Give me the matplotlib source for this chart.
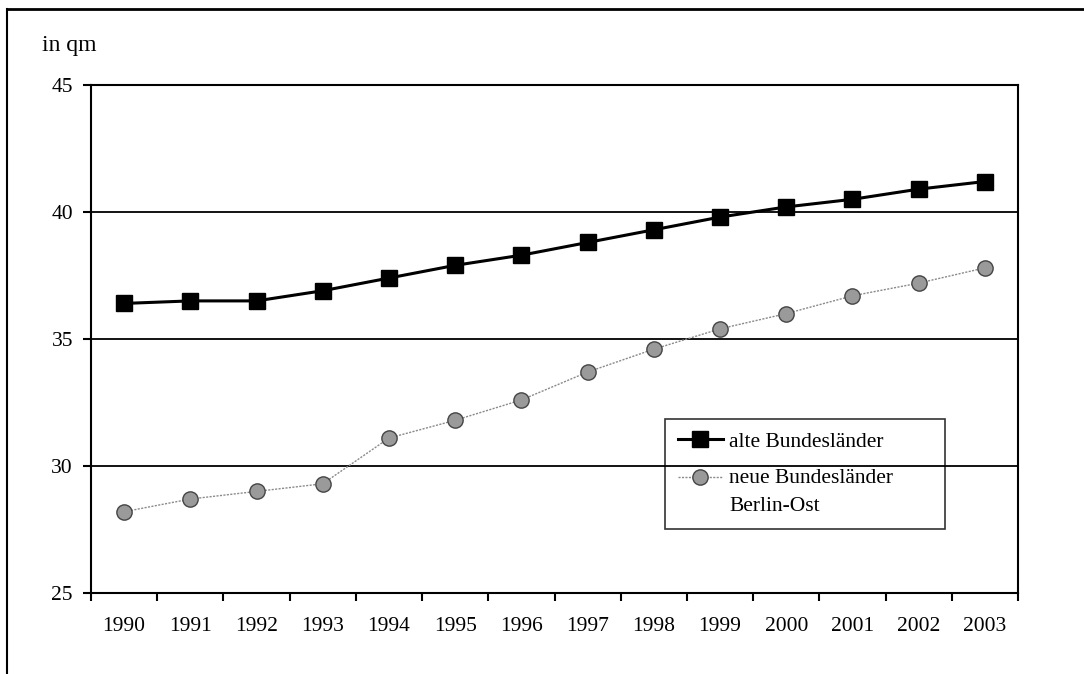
import numpy as np
import matplotlib.pyplot as plt
from matplotlib.lines import Line2D
from matplotlib.legend_handler import HandlerLine2D

years = ["1990", "1991", "1992", "1993", "1994", "1995", "1996",
         "1997", "1998", "1999", "2000", "2001", "2002", "2003"]
alte = [36.4, 36.5, 36.5, 36.9, 37.4, 37.9, 38.3, 38.8, 39.3, 39.8, 40.2, 40.5, 40.9, 41.2]
neue = [28.2, 28.7, 29.0, 29.3, 31.1, 31.8, 32.6, 33.7, 34.6, 35.4, 36.0, 36.7, 37.2, 37.8]
y_ticks = [25, 30, 35, 40, 45]

plt.rcParams['font.family'] = ['Liberation Serif', 'DejaVu Serif']


class RaisedHandler(HandlerLine2D):
    # put the handle next to the first line of a two-line label
    def __init__(self, shift, **kw):
        super().__init__(**kw)
        self.shift = shift

    def create_artists(self, legend, orig_handle, xdescent, ydescent,
                       width, height, fontsize, trans):
        arts = super().create_artists(legend, orig_handle, xdescent, ydescent,
                                      width, height, fontsize, trans)
        for a in arts:
            a.set_ydata(np.asarray(a.get_ydata()) + self.shift)
        return arts


fig = plt.figure(figsize=(10.84, 6.74), dpi=100)
ax = fig.add_axes([91 / 1084, 1 - 593 / 674, 927 / 1084, 508 / 674])

x = np.arange(len(years))

l1, = ax.plot(x, alte, color='black', linewidth=2.2, marker='s', markersize=11.5,
              markerfacecolor='black', markeredgecolor='black',
              label='alte Bundesländer', zorder=4)
l2, = ax.plot(x, neue, color='#8a8a8a', linewidth=1.0, linestyle=(0, (1.5, 1)),
              marker='o', markersize=11, markerfacecolor='#9a9a9a',
              markeredgecolor='#444444', markeredgewidth=1.0,
              label='neue Bundesländer\nBerlin-Ost', zorder=4)

ax.set_xlim(-0.5, len(years) - 0.5)
ax.set_ylim(25, 45)
ax.set_yticks(y_ticks)
ax.set_yticklabels([str(v) for v in y_ticks])
ax.set_xticks(x)
ax.set_xticklabels(years)
ax.set_xticks(np.arange(-0.5, len(years)), minor=True)

ax.tick_params(axis='x', which='major', length=0, pad=17, labelsize=15.5)
ax.tick_params(axis='x', which='minor', length=6, width=1.5, direction='out')
ax.tick_params(axis='y', length=6, width=1.5, direction='out', pad=7, labelsize=15.5)

for v in [30, 35, 40]:
    ax.axhline(v, color='black', linewidth=1.3, zorder=1)

for side in ['left', 'right', 'top', 'bottom']:
    ax.spines[side].set_linewidth(1.5)
    ax.spines[side].set_color('black')

leg = ax.legend(handles=[l1, l2], loc='upper left',
                bbox_to_anchor=(0.619, 0.134, 0.302, 0.2085), mode='expand',
                handler_map={l2: RaisedHandler(shift=10.4)},
                fancybox=False, frameon=True, edgecolor='black',
                facecolor='none', fontsize=15.5,
                handlelength=2.1, handletextpad=0.3, labelspacing=0.8,
                borderpad=0.6, borderaxespad=0)
leg.get_frame().set_linewidth(1.2)
for t in leg.get_texts():
    t.set_linespacing(1.6)

fig.text(42 / 1084, 1 - 46 / 674, 'in qm', fontsize=17, va='center', ha='left')

# outer frame of the scanned figure
fig.add_artist(Line2D([7 / 1084, 7 / 1084], [0, 1 - 9 / 674],
                      transform=fig.transFigure, color='black', linewidth=1.5))
fig.add_artist(Line2D([7 / 1084, 1], [1 - 9 / 674, 1 - 9 / 674],
                      transform=fig.transFigure, color='black', linewidth=2))

fig.savefig('out.png', dpi=100)
